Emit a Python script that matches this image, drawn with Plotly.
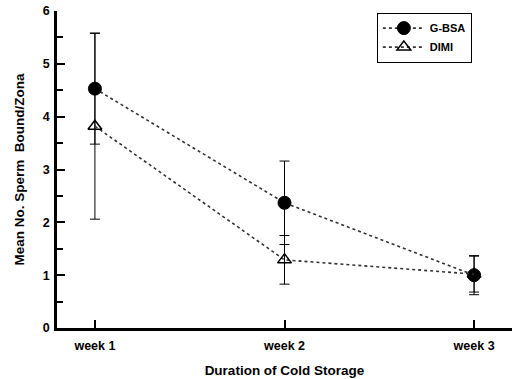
import plotly.graph_objects as go

weeks = [1, 2, 3]
week_labels = ["week 1", "week 2", "week 3"]
gbsa_mean = [4.53, 2.37, 1.00]
gbsa_err = [1.05, 0.79, 0.37]
dimi_mean = [3.82, 1.29, 1.02]
dimi_err = [1.76, 0.46, 0.34]

font_family = "Arial, Liberation Sans, sans-serif"

fig = go.Figure()
fig.add_trace(go.Scatter(
    x=weeks, y=gbsa_mean, name="G-BSA", mode="lines+markers",
    line=dict(color="#333333", width=1.6, dash="dot"),
    marker=dict(symbol="circle", size=13, color="black", line=dict(color="black", width=1)),
    error_y=dict(type="data", array=gbsa_err, visible=True, color="black", thickness=1, width=5),
))
fig.add_trace(go.Scatter(
    x=weeks, y=dimi_mean, name="DIMI", mode="lines+markers",
    line=dict(color="#333333", width=1.6, dash="dot"),
    marker=dict(symbol="triangle-up-open", size=12, color="black", line=dict(color="black", width=1.5)),
    error_y=dict(type="data", array=dimi_err, visible=True, color="black", thickness=1, width=5),
))

fig.update_layout(
    width=514, height=379,
    margin=dict(l=57, r=2, t=11, b=51),
    paper_bgcolor="white", plot_bgcolor="white",
    font=dict(family=font_family, color="black", size=12),
    showlegend=True,
    legend=dict(
        x=0.703, y=0.995, xanchor="left", yanchor="top",
        bordercolor="black", borderwidth=1, bgcolor="white",
        font=dict(size=11, family=font_family, weight="bold"),
        itemwidth=42, tracegroupgap=0,
    ),
)
fig.update_xaxes(
    range=[0.8, 3.2], tickmode="array", tickvals=weeks, ticktext=week_labels,
    showline=True, linecolor="black", linewidth=2.5, showgrid=False, zeroline=False,
    ticks="inside", ticklen=8, tickwidth=2, tickcolor="black",
    tickfont=dict(size=12.5, weight="bold"), ticklabelstandoff=4,
    title=dict(text="Duration of Cold Storage", font=dict(size=13.5, weight="bold"), standoff=14),
)
fig.update_yaxes(
    range=[0, 6], dtick=1, tick0=0,
    showline=True, linecolor="black", linewidth=2.5, showgrid=False, zeroline=False,
    ticks="inside", ticklen=8, tickwidth=2, tickcolor="black",
    minor=dict(dtick=0.5, ticks="inside", ticklen=6, tickwidth=2, tickcolor="black"),
    tickfont=dict(size=12.5, weight="bold"), ticklabelstandoff=2,
    title=dict(text="Mean No. Sperm  Bound/Zona", font=dict(size=13.5, weight="bold"), standoff=16),
)

fig.write_html("out.html")
